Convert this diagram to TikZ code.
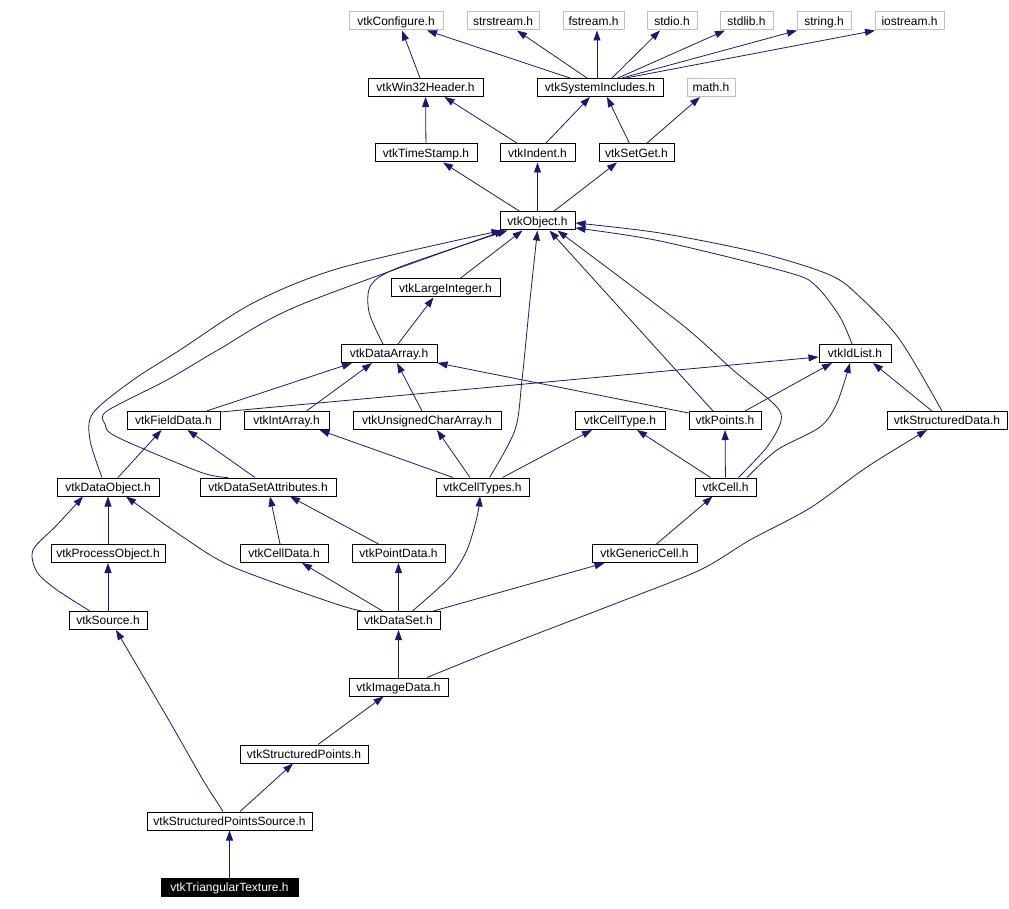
\documentclass[tikz,border=0pt]{standalone}
\usepackage{fontspec}
\setmainfont{Liberation Sans}
\usetikzlibrary{arrows.meta}
\definecolor{navy}{HTML}{191970}
\definecolor{boxgray}{HTML}{BFBFBF}
\newcommand\boxfont{\fontsize{12}{14}\selectfont}
\begin{document}
\begin{tikzpicture}[x=1pt,y=-1pt,
  box/.style={draw=black, line width=1pt, fill=white, minimum height=18pt, inner sep=0pt, text height=8.6pt, text depth=0.4pt, font=\boxfont, text=black},
  gbox/.style={box, draw=boxgray},
  edge/.style={draw=navy, line width=0.8pt, -{Triangle[length=10pt,width=7pt]}}]
\useasboundingbox (0,0) rectangle (1009,909);
% nodes
\node[gbox, minimum width=94pt] (conf) at (396,21) {vtkConfigure.h};
\node[gbox, minimum width=72pt] (strs) at (503,21) {strstream.h};
\node[gbox, minimum width=61pt] (fstr) at (593.5,21) {fstream.h};
\node[gbox, minimum width=50pt] (stdio) at (672,21) {stdio.h};
\node[gbox, minimum width=53pt] (stdlib) at (746.5,21) {stdlib.h};
\node[gbox, minimum width=54pt] (string) at (824,21) {string.h};
\node[gbox, minimum width=69pt] (iostream) at (909.5,21) {iostream.h};
\node[gbox, minimum width=48pt] (math) at (711,87.5) {math.h};
\node[box, minimum width=115pt] (win32) at (425.5,87.5) {vtkWin32Header.h};
\node[box, minimum width=126pt] (sysinc) at (600,87.5) {vtkSystemIncludes.h};
\node[box, minimum width=102pt] (timestamp) at (426,153) {vtkTimeStamp.h};
\node[box, minimum width=75pt] (indent) at (537.5,153) {vtkIndent.h};
\node[box, minimum width=75pt] (setget) at (636.5,153) {vtkSetGet.h};
\node[box, minimum width=75pt] (object) at (537.5,221) {vtkObject.h};
\node[box, minimum width=109pt] (largeint) at (445.5,288) {vtkLargeInteger.h};
\node[box, minimum width=96pt] (dataarray) at (389,353.5) {vtkDataArray.h};
\node[box, minimum width=72pt] (idlist) at (855,353.5) {vtkIdList.h};
\node[box, minimum width=93pt] (fielddata) at (173.5,420.5) {vtkFieldData.h};
\node[box, minimum width=85pt] (intarray) at (286.5,420.5) {vtkIntArray.h};
\node[box, minimum width=148pt] (uchar) at (427,420.5) {vtkUnsignedCharArray.h};
\node[box, minimum width=90pt] (celltype) at (620,420.5) {vtkCellType.h};
\node[box, minimum width=72pt] (points) at (725,420.5) {vtkPoints.h};
\node[box, minimum width=120pt] (structdata) at (947,420.5) {vtkStructuredData.h};
\node[box, minimum width=102pt] (dataobject) at (108,487) {vtkDataObject.h};
\node[box, minimum width=136pt] (dsattr) at (268,487) {vtkDataSetAttributes.h};
\node[box, minimum width=93pt] (celltypes) at (482.5,487) {vtkCellTypes.h};
\node[box, minimum width=61pt] (cell) at (725.5,487) {vtkCell.h};
\node[box, minimum width=114pt] (procobj) at (108,553.5) {vtkProcessObject.h};
\node[box, minimum width=88pt] (celldata) at (284,553.5) {vtkCellData.h};
\node[box, minimum width=93pt] (pointdata) at (398.5,553.5) {vtkPointData.h};
\node[box, minimum width=105pt] (genericcell) at (644.5,553.5) {vtkGenericCell.h};
\node[box, minimum width=78pt] (source) at (108,620.5) {vtkSource.h};
\node[box, minimum width=83pt] (dataset) at (398.5,620.5) {vtkDataSet.h};
\node[box, minimum width=99pt] (imagedata) at (398.5,687) {vtkImageData.h};
\node[box, minimum width=128pt] (structpoints) at (304,754) {vtkStructuredPoints.h};
\node[box, minimum width=165pt] (spsource) at (229.5,821) {vtkStructuredPointsSource.h};
\node[box, fill=black, text=white, minimum width=137pt] (tritex) at (229.5,887.5) {vtkTriangularTexture.h};
% edges, top
\draw[edge] ([xshift=-5.5pt]win32.north) -- ([xshift=6pt]conf.south);
\draw[edge] ([xshift=-30pt]sysinc.north) -- ([xshift=31pt]conf.south);
\draw[edge] ([xshift=-13pt]sysinc.north) -- ([xshift=14pt]strs.south);
\draw[edge] ([xshift=-3pt]sysinc.north) -- ([xshift=3.5pt]fstr.south);
\draw[edge] ([xshift=12pt]sysinc.north) -- ([xshift=-12pt]stdio.south);
\draw[edge] ([xshift=18pt]sysinc.north) -- ([xshift=-21.5pt]stdlib.south);
\draw[edge] ([xshift=22pt]sysinc.north) -- ([xshift=-27pt]string.south);
\draw[edge] ([xshift=26pt]sysinc.north) -- ([xshift=-34.5pt]iostream.south);
\draw[edge] (timestamp) -- (win32);
\draw[edge] ([xshift=-20pt]indent.north) -- ([xshift=19pt]win32.south);
\draw[edge] ([xshift=8pt]indent.north) -- ([xshift=-10pt]sysinc.south);
\draw[edge] ([xshift=-7pt]setget.north) -- ([xshift=7pt]sysinc.south);
\draw[edge] ([xshift=10pt]setget.north) -- ([xshift=-11pt]math.south);
\draw[edge] ([xshift=-17.5pt]object.north) -- ([xshift=17pt]timestamp.south);
\draw[edge] (object) -- (indent);
\draw[edge] ([xshift=16pt]object.north) -- ([xshift=-19.5pt]setget.south);
% into vtkObject
\draw[edge] ([xshift=14.5pt]largeint.north) -- ([xshift=-15pt]object.south);
\draw[edge] plot[smooth] coordinates {([xshift=-6pt]dataarray.north) (369,312) (371,285) (400,267) ([xshift=-30pt]object.south)};
\draw[edge] plot[smooth] coordinates {([xshift=-6pt]dataobject.north) (90,440) (93,413) (133,380) (180,350) (253,303) (340,268) ([xshift=-36pt]object.south)};
\draw[edge] plot[smooth] coordinates {([xshift=-40pt]dsattr.north) (200,472) (117,437) (105,424) (107,411) (167,380) (218,350) (300,305) ([xshift=-33pt]object.south)};
\draw[edge] plot[smooth] coordinates {([xshift=7pt]celltypes.north) (515,430) (522,380) (530,300) (object.south)};
\draw[edge] ([xshift=-12pt]points.north) -- ([xshift=12pt]object.south);
\draw[edge] plot[smooth] coordinates {([xshift=13pt]cell.north) (767,447) (781,421) (775,405) (733,370) (680,323) ([xshift=20pt]object.south)};
\draw[edge] plot[smooth] coordinates {([xshift=-3pt]idlist.north) (840,317) (817,287) (790,273) (660,241) ([yshift=-7pt]object.east)};
\draw[edge] plot[smooth] coordinates {([xshift=-5pt]structdata.north) (900,340) (860,297) (830,275) (760,253) (660,233) ([yshift=-2pt]object.east)};
% middle
\draw[edge] ([xshift=9pt]dataarray.north) -- ([xshift=-12pt]largeint.south);
\draw[edge] ([xshift=33pt]fielddata.north) -- ([xshift=-37pt]dataarray.south);
\draw[edge] ([yshift=8.5pt]fielddata.east) -- ([yshift=-3.5pt]idlist.west);
\draw[edge] ([xshift=20pt]intarray.north) -- ([xshift=-17pt]dataarray.south);
\draw[edge] ([xshift=-5pt]uchar.north) -- ([xshift=8pt]dataarray.south);
\draw[edge] ([yshift=7.5pt]points.west) -- (dataarray.south east);
\draw[edge] ([xshift=20pt]points.north) -- ([xshift=-23pt]idlist.south);
\draw[edge] ([xshift=-15pt]structdata.north) -- ([xshift=18pt]idlist.south);
\draw[edge] ([xshift=-29.5pt]celltypes.north) -- ([xshift=33pt]intarray.south);
\draw[edge] ([xshift=-12.5pt]celltypes.north) -- ([xshift=10pt]uchar.south);
\draw[edge] ([xshift=20pt]celltypes.north) -- ([xshift=-28pt]celltype.south);
\draw[edge] ([xshift=-15pt]cell.north) -- ([xshift=17pt]celltype.south);
\draw[edge] (cell) -- (points);
\draw[edge] plot[smooth] coordinates {([xshift=21.5pt]cell.north) (777,450) (820,427) (837,403) ([xshift=-5pt]idlist.south)};
\draw[edge] ([xshift=-13pt]dsattr.north) -- ([xshift=14pt]fielddata.south);
\draw[edge] ([xshift=10pt]dataobject.north) -- ([xshift=-12pt]fielddata.south);
% lower
\draw[edge] (procobj) -- (dataobject);
\draw[edge] plot[smooth] coordinates {([xshift=-18pt]source.north) (57,590) (37,572) (33,550) (57,525) ([xshift=-25pt]dataobject.south)};
\draw[edge] (source) -- (procobj);
\draw[edge] plot[smooth] coordinates {([xshift=-37pt]dataset.north) (333,603) (233,567) (183,537) ([xshift=18pt]dataobject.south)};
\draw[edge] ([xshift=-4pt]celldata.north) -- ([xshift=2pt]dsattr.south);
\draw[edge] ([xshift=-20pt]pointdata.north) -- ([xshift=22pt]dsattr.south);
\draw[edge] ([xshift=-16pt]dataset.north) -- ([xshift=18pt]celldata.south);
\draw[edge] (dataset) -- (pointdata);
\draw[edge] plot[smooth] coordinates {([xshift=14pt]dataset.north) (450,577) (467,550) (477,517) ([xshift=-2.5pt]celltypes.south)};
\draw[edge] ([xshift=35pt]dataset.north) -- ([xshift=-40pt]genericcell.south);
\draw[edge] ([xshift=12pt]genericcell.north) -- ([xshift=-13pt]cell.south);
\draw[edge] (imagedata) -- (dataset);
\draw[edge] plot[smooth] coordinates {([xshift=28.5pt]imagedata.north) (500,648) (617,603) (700,570) (750,540) (810,508) (867,467) ([xshift=-20pt]structdata.south)};
\draw[edge] ([xshift=14pt]structpoints.north) -- ([xshift=-15pt]imagedata.south);
\draw[edge] plot[smooth] coordinates {([xshift=-6.5pt]spsource.north) (217,802) (203,780) (167,717) ([xshift=8pt]source.south)};
\draw[edge] ([xshift=10.5pt]spsource.north) -- ([xshift=-11pt]structpoints.south);
\draw[edge] (tritex) -- (spsource);
\end{tikzpicture}
\end{document}
